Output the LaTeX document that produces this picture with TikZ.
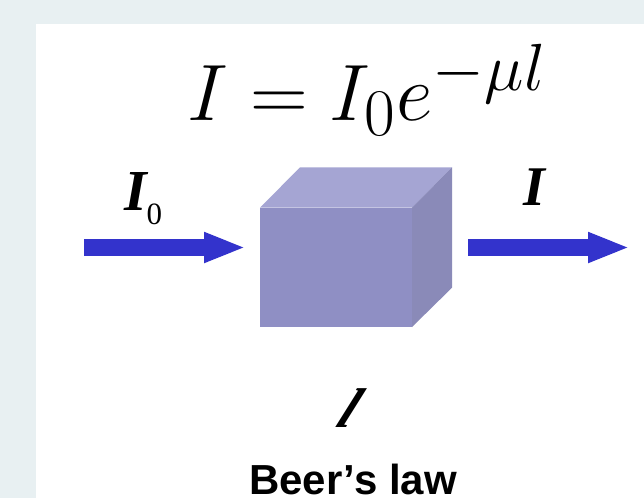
\documentclass[tikz,border=0pt]{standalone}
\usepackage{graphicx}
\usepackage{fontspec}
\newfontfamily\tnr{Liberation Serif}
\newfontfamily\arial{Liberation Sans}
\usetikzlibrary{arrows.meta}
\definecolor{bgc}{HTML}{E8F0F2}
\definecolor{beamc}{HTML}{3333CC}
\definecolor{frontc}{HTML}{8F8FC4}
\definecolor{topc}{HTML}{A5A5D3}
\definecolor{sidec}{HTML}{8A8AB8}
\tikzset{
  beam/.style={line width=16.4pt, beamc, -{Triangle[length=39.3pt,width=31.6pt,line width=0pt]}},
  lbl/.style={inner sep=0pt, outer sep=0pt, anchor=base west},
}
\begin{document}
\begin{tikzpicture}[x=1pt,y=-1pt]
\useasboundingbox (0,0) rectangle (644,498);
\fill[bgc] (0,0) rectangle (644,498);
\fill[white] (36,24) rectangle (644,498);
% equation
\node[lbl] (eq) at (187,120) {\scalebox{3.215}{\fontsize{24.88}{30}\selectfont$I = I_0e^{-\mu l}$}};
% cube
\node[fill=frontc, inner sep=0pt, outer sep=0pt, minimum width=152pt, minimum height=119.3pt, anchor=north west] (cube) at (260,207.7) {};
\fill[topc] (cube.north west) -- ++(40,-40.4) -- ++(152,0) -- (cube.north east) -- cycle;
\fill[sidec] (cube.north east) -- ++(40,-40.4) -- ++(0,120.4) -- (cube.south east) -- cycle;
% arrows
\coordinate (inA) at (84,247.5);
\coordinate (inB) at (243.3,247.5);
\coordinate (outA) at (468,247.5);
\coordinate (outB) at (627.3,247.5);
\draw[beam] (inA) -- (inB);
\draw[beam] (outA) -- (outB);
% labels
\node[lbl] (i0) at (124,210) {\fontsize{58}{60}\selectfont\tnr\bfseries\itshape I\raisebox{-14pt}{\fontsize{31}{32}\selectfont\mdseries\upshape 0}};
\node[lbl] (i1) at (523,205) {\fontsize{56}{60}\selectfont\tnr\bfseries\itshape I};
\node[lbl, xslant=0.45] (len) at (334,427) {\fontsize{56}{60}\selectfont\tnr\bfseries\itshape l};
\node[lbl] (title) at (249,494) {\fontsize{42}{44}\selectfont\arial\bfseries Beer’s law};
\end{tikzpicture}
\end{document}
